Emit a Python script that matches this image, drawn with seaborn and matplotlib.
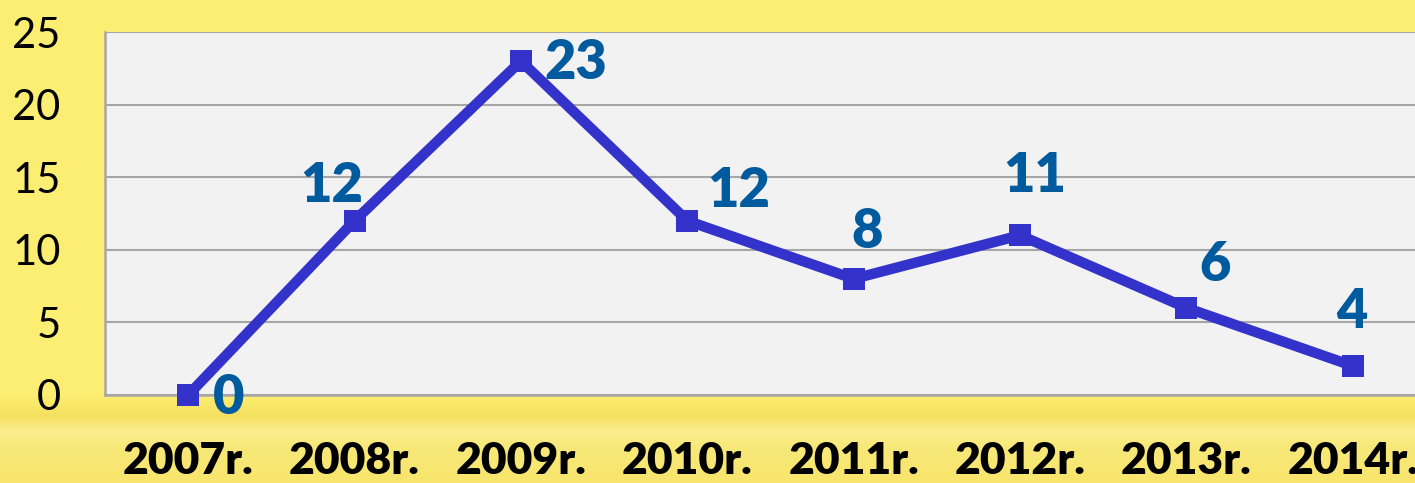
import numpy as np
import pandas as pd
import matplotlib
matplotlib.use("Agg")
import matplotlib.pyplot as plt
from matplotlib.colors import LinearSegmentedColormap
import seaborn as sns

# Daten aus dem Bild
jahre = ["2007r.", "2008r.", "2009r.", "2010r.", "2011r.", "2012r.", "2013r.", "2014r."]
werte = [0, 12, 23, 12, 8, 11, 6, 2]
beschriftungen = ["0", "12", "23", "12", "8", "11", "6", "4"]

# Versatz der Datenbeschriftungen in Pixeln (dx, dy)
label_versatz = [(40, -3), (-23, 35), (55, -2), (51, 30), (13, 47), (15, 59), (29, 43), (-1, 54)]

sns.set_style("white")
plt.rcParams["font.family"] = ["Lato", "DejaVu Sans"]

df = pd.DataFrame({"jahr": jahre, "wert": werte})
df["pos"] = np.arange(len(df))

fig = plt.figure(figsize=(14.15, 4.83), dpi=100)
fig.patch.set_facecolor("#FCEE72")

# Hintergrund mit gelbem Verlauf
bg = fig.add_axes([0, 0, 1, 1], zorder=-10)
cmap = LinearSegmentedColormap.from_list(
    "gelb",
    [(0.0, "#FCEE72"), (0.82, "#FCEE72"), (0.865, "#F5E060"), (0.895, "#FBEE90"),
     (0.93, "#F8E878"), (1.0, "#F7E56C")],
)
grad = np.linspace(0, 1, 483).reshape(-1, 1)
bg.imshow(grad, aspect="auto", cmap=cmap, extent=[0, 1, 0, 1], origin="upper")
bg.axis("off")

ax = fig.add_axes([105 / 1415, 88 / 483, 1331 / 1415, 363 / 483])
ax.set_facecolor("#F2F2F2")

sns.lineplot(data=df, x="pos", y="wert", ax=ax, color="#3333CC", linewidth=7.5,
             marker="s", markersize=16, markeredgewidth=0, sort=False, zorder=5,
             clip_on=False)

ax.set_xlim(-0.5, len(jahre) - 0.5)
ax.set_ylim(0, 25)
ax.set_yticks(range(0, 26, 5))
ax.yaxis.grid(True, color="#A6A6A6", linewidth=1.5)
ax.set_axisbelow(True)

ax.set_xticks(df["pos"])
ax.set_xticklabels(jahre, fontsize=32, fontweight="heavy", color="black")
ax.set_xticks(np.arange(-0.5, len(jahre)), minor=True)
ax.tick_params(axis="x", which="major", length=0, pad=33)
ax.tick_params(axis="x", which="minor", length=11, width=1.5, color="#A6A6A6", direction="out")
ax.tick_params(axis="y", length=11, width=1.5, color="#A6A6A6", direction="out",
               labelsize=30, pad=21, labelcolor="black")

for s in ["top", "right"]:
    ax.spines[s].set_visible(False)
for s in ["left", "bottom"]:
    ax.spines[s].set_color("#A6A6A6")
    ax.spines[s].set_linewidth(1.8)

ax.set_xlabel("")
ax.set_ylabel("")

for x, y, txt, (dx, dy) in zip(df["pos"], df["wert"], beschriftungen, label_versatz):
    ax.annotate(txt, (x, y), xytext=(dx, dy), textcoords="offset pixels",
                ha="center", va="center", fontsize=39, fontweight="heavy",
                color="#005A9E", zorder=6)

plt.savefig("out.png", dpi=100, facecolor=fig.get_facecolor())
